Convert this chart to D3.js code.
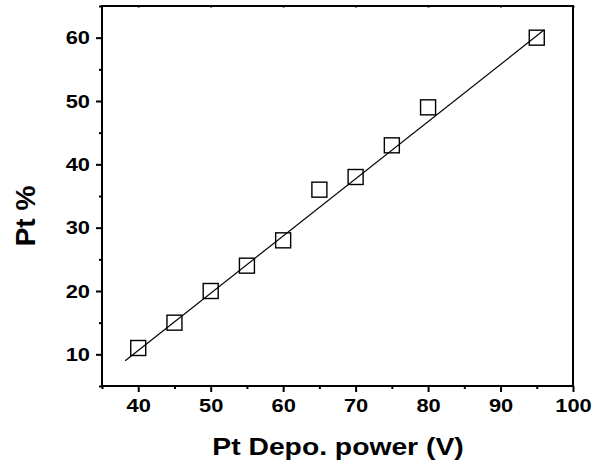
<!DOCTYPE html>
<html><head><meta charset="utf-8">
<script src="https://cdn.jsdelivr.net/npm/d3@7"></script>
<style>body{margin:0;background:#fff}text{font-family:"Liberation Sans",Arial,sans-serif;font-weight:bold;fill:#000}</style>
</head><body><svg id="c" width="595" height="471"></svg>
<script>
const powerV = [40, 45, 50, 55, 60, 65, 70, 75, 80, 95];
const ptPct  = [11, 15, 20, 24, 28, 36, 38, 43, 49, 60];
const fitX = [38.2, 96];
const fitY = [9.0, 61.2];
const xTicks = [40, 50, 60, 70, 80, 90, 100];
const xMinor = [35, 45, 55, 65, 75, 85, 95];
const yTicks = [10, 20, 30, 40, 50, 60];
const yMinor = [5, 15, 25, 35, 45, 55, 65];

const svg = d3.select("#c");
const L = 102, R = 573, T = 6, B = 386;
const x = d3.scaleLinear().domain([35, 100]).range([L, R]);
const y = d3.scaleLinear().domain([5, 65]).range([B, T]);

const g = svg.append("g");
const xa = g.append("g").attr("transform", `translate(0,${B})`)
  .call(d3.axisBottom(x).tickValues(xTicks).tickSize(6).tickPadding(7).tickFormat(d3.format("d")));
const xm = g.append("g").attr("transform", `translate(0,${B})`)
  .call(d3.axisBottom(x).tickValues(xMinor).tickSize(3).tickFormat(""));
const ya = g.append("g").attr("transform", `translate(${L},0)`)
  .call(d3.axisLeft(y).tickValues(yTicks).tickSize(6).tickFormat(d3.format("d")));
const ym = g.append("g").attr("transform", `translate(${L},0)`)
  .call(d3.axisLeft(y).tickValues(yMinor).tickSize(3).tickFormat(""));
const xt = g.append("g").attr("transform", `translate(0,${T})`)
  .call(d3.axisTop(x).tickValues(xTicks).tickSize(-1.5).tickFormat(""));
const yr = g.append("g").attr("transform", `translate(${R},0)`)
  .call(d3.axisRight(y).tickValues([]).tickSize(0));
[xa, xm, ya, ym, xt, yr].forEach(a => {
  a.select(".domain").attr("stroke", "#000").attr("stroke-width", 2);
  a.selectAll(".tick line").attr("stroke", "#000").attr("stroke-width", 2);
  a.selectAll("text").style("font-size", "19px").attr("fill", "#000");
});
[xm, ym, xt, yr].forEach(a => a.select(".domain").attr("d", null));
xa.select(".domain").attr("d", `M${L-1},0H${R+1}`);
ya.select(".domain").attr("d", `M0,${T-1}V${B+1}`);
xt.select(".domain").attr("d", `M${L-1},0H${R+1}`);
yr.select(".domain").attr("d", `M0,${T-1}V${B+1}`);
xa.selectAll(".tick text").attr("transform", "scale(1.15,1)");
ya.selectAll(".tick text").attr("x", -12/1.15).attr("transform", "scale(1.15,1)");

g.append("line")
  .attr("x1", x(fitX[0])).attr("y1", y(fitY[0]))
  .attr("x2", x(fitX[1])).attr("y2", y(fitY[1]))
  .attr("stroke", "#000").attr("stroke-width", 1.2);

const s = 15;
g.selectAll("rect.pt").data(powerV).enter().append("rect")
  .attr("class", "pt")
  .attr("x", (d) => x(d) - s/2)
  .attr("y", (d, i) => y(ptPct[i]) - s/2)
  .attr("width", s).attr("height", s)
  .attr("fill", "none").attr("stroke", "#000").attr("stroke-width", 1.4);

svg.append("text").attr("transform", "translate(338,455) scale(1.23,1)")
  .attr("text-anchor", "middle").style("font-size", "23px").text("Pt Depo. power (V)");
svg.append("text").attr("transform", "translate(35,216) rotate(-90)")
  .attr("text-anchor", "middle").style("font-size", "28px").text("Pt %");
</script></body></html>
